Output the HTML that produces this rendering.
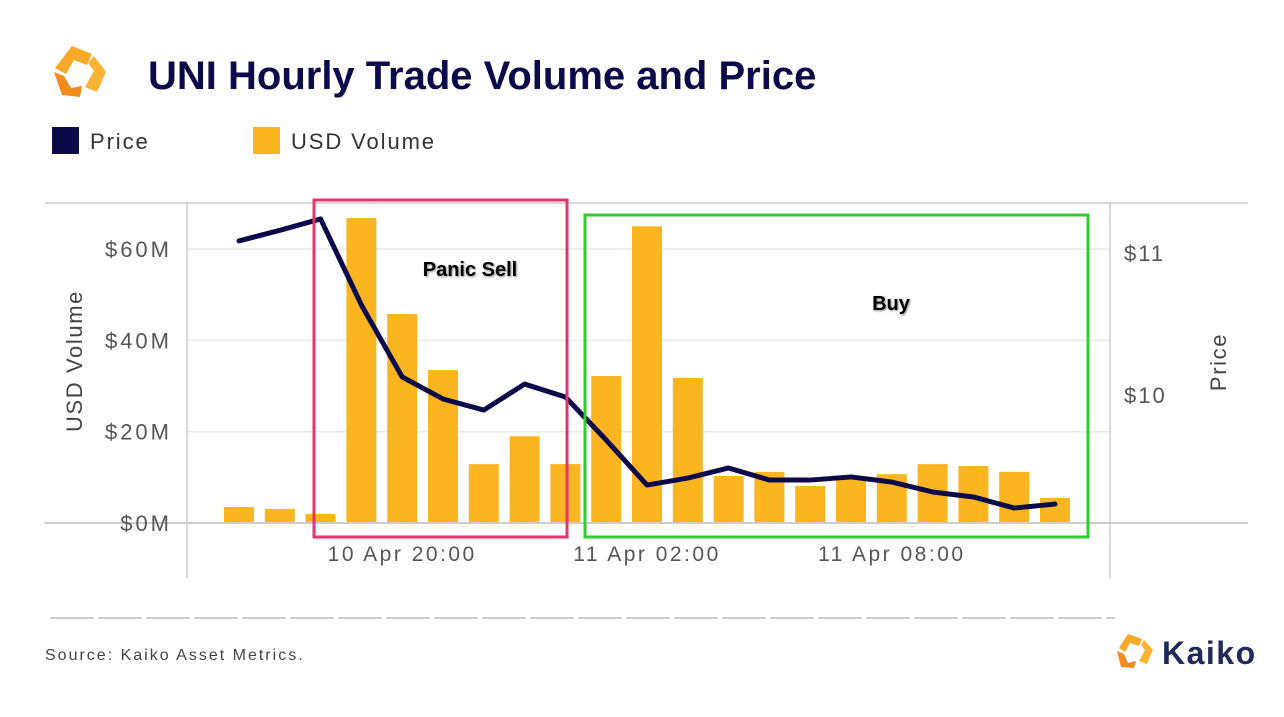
<!DOCTYPE html>
<html><head><meta charset="utf-8"><style>
body{margin:0;width:1284px;height:712px;background:#fff;overflow:hidden;font-family:"Liberation Sans",sans-serif}
</style></head><body>
<svg width="1284" height="712" viewBox="0 0 1284 712" xmlns="http://www.w3.org/2000/svg">
<g>
<polygon points="72,46 92,54 87,65 74,60 66,74 55,68" fill="#f7a928"/>
<polygon points="94,56 106,72 97,92 85,87 94,71 88,63" fill="#f9b233"/>
<polygon points="54,72 64,76 71,88 82,86 80,97 62,95" fill="#f28b1e"/>
</g>
<text x="148" y="89" font-size="40" font-weight="bold" letter-spacing="0" fill="#0d0a4a">UNI Hourly Trade Volume and Price</text>
<rect x="52" y="127" width="27" height="27" fill="#0d0a4a"/>
<text x="90" y="149" font-size="22" letter-spacing="1.9" fill="#333">Price</text>
<rect x="253" y="127" width="27" height="27" fill="#fbb521"/>
<text x="291" y="149" font-size="22" letter-spacing="1.9" fill="#333">USD Volume</text>
<g id="grid"></g>
<line x1="45" y1="203" x2="1248" y2="203" stroke="#ccc" stroke-width="1.5"/>
<line x1="187" y1="203" x2="187" y2="578" stroke="#ccc" stroke-width="1.5"/>
<line x1="1110" y1="203" x2="1110" y2="578" stroke="#ccc" stroke-width="1.5"/>
<g id="bars"></g>
<line x1="45" y1="523" x2="1248" y2="523" stroke="#ccc" stroke-width="2"/>
<g id="line"></g>
<g id="ticks"></g>
<text transform="translate(82,361) rotate(-90)" text-anchor="middle" font-size="22" letter-spacing="1.6" fill="#444">USD Volume</text>
<text transform="translate(1226,362) rotate(-90)" text-anchor="middle" font-size="22" letter-spacing="1.6" fill="#444">Price</text>
<rect x="314" y="200" width="253" height="337" fill="none" stroke="#e8336b" stroke-width="3"/>
<rect x="585" y="215" width="503" height="322" fill="none" stroke="#2ecc2e" stroke-width="3"/>
<text x="470" y="276" text-anchor="middle" font-size="20" font-weight="bold" fill="#000" style="text-shadow:1px 1px 2px #888">Panic Sell</text>
<text x="891" y="310" text-anchor="middle" font-size="20" font-weight="bold" fill="#000" style="text-shadow:1px 1px 2px #888">Buy</text>
<line x1="50" y1="618" x2="1115" y2="618" stroke="#bbb" stroke-width="1.5" stroke-dasharray="44,4"/>
<text x="45" y="660" font-size="16" letter-spacing="2" fill="#444">Source: Kaiko Asset Metrics.</text>
<g>
<polygon points="1128,634 1142,639 1139,646 1130,643 1125,652 1119,648" fill="#f7a928"/>
<polygon points="1144,640 1153,650 1147,664 1139,661 1145,650 1141,645" fill="#f9b233"/>
<polygon points="1117,651 1124,654 1128,663 1136,661 1134,668 1121,667" fill="#f28b1e"/>
<text x="1162" y="664" font-size="32" font-weight="bold" letter-spacing="1.5" fill="#1f2a5a">Kaiko</text>
</g>
</svg>
<script>
const volumes=[3.5,3.1,2.0,66.8,45.8,33.5,12.9,19.0,12.9,32.2,65.0,31.8,10.3,11.2,8.1,9.9,10.7,12.9,12.5,11.2,5.5];
const prices=[11.085,11.16,11.24,10.634,10.127,9.972,9.894,10.077,9.986,9.683,9.366,9.415,9.486,9.401,9.401,9.423,9.387,9.317,9.282,9.204,9.232];
const volTicks=[0,20,40,60];
const volTickLabels=["$0M","$20M","$40M","$60M"];
const priceTicks=[10,11];
const priceTickLabels=["$10","$11"];
const xTickIdx=[4,10,16];
const xTickLabels=["10 Apr 20:00","11 Apr 02:00","11 Apr 08:00"];
const NS="http://www.w3.org/2000/svg";
const xS=i=>239+i*40.8;
const yV=v=>523-v*4.565;
const yP=p=>253+(11-p)*142;
function mk(t,a){const e=document.createElementNS(NS,t);for(const k in a)e.setAttribute(k,a[k]);return e;}
const grid=document.getElementById('grid'),bars=document.getElementById('bars'),line=document.getElementById('line'),ticks=document.getElementById('ticks');
volTicks.forEach((v,i)=>{
 if(v>0){const g=mk('line',{x1:187,x2:1110,y1:yV(v),y2:yV(v),stroke:'#eaeaea','stroke-width':1.5});
 
 grid.appendChild(g);}
 const t=mk('text',{x:172,y:yV(v)+8,'text-anchor':'end','font-size':22,'letter-spacing':3,fill:'#555'});t.textContent=volTickLabels[i];
 
 ticks.appendChild(t);
});
priceTicks.forEach((p,i)=>{
 const t=mk('text',{x:1124,y:yP(p)+8,'font-size':22,'letter-spacing':2,fill:'#555'});t.textContent=priceTickLabels[i];
 
 ticks.appendChild(t);
});
xTickIdx.forEach((idx,i)=>{
 const t=mk('text',{x:xS(idx),y:561,'text-anchor':'middle','font-size':21,'letter-spacing':2.5,fill:'#555'});t.textContent=xTickLabels[i];
 
 ticks.appendChild(t);
});
volumes.forEach((v,i)=>{
 const r=mk('rect',{x:xS(i)-15,y:yV(v),width:30,height:523-yV(v),fill:'#fbb521'});
 
 bars.appendChild(r);
});
const pl=mk('polyline',{points:prices.map((p,i)=>xS(i)+','+yP(p)).join(' '),fill:'none',stroke:'#0d0a4a','stroke-width':5,'stroke-linejoin':'round','stroke-linecap':'round'});


line.appendChild(pl);
</script>
</body></html>
